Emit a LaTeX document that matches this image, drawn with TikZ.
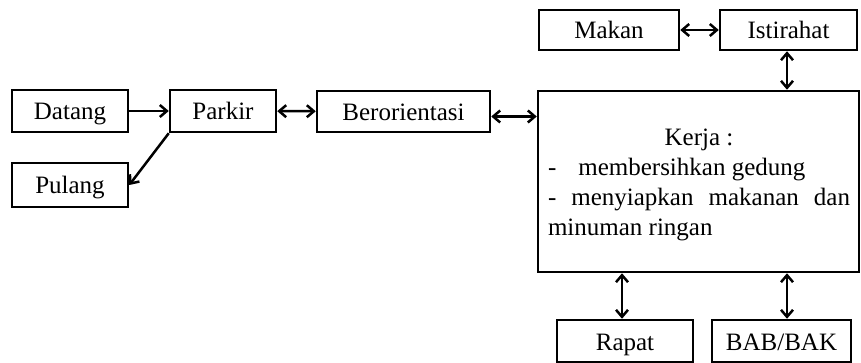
\documentclass[tikz,border=0pt]{standalone}
\usepackage{fontspec}
\setmainfont{Liberation Serif}
\usepackage{tikz}
\usetikzlibrary{arrows.meta}

\tikzset{
	box/.style={draw, line width=2.5pt, inner sep=0pt, minimum height=42pt, text height=18pt, text depth=0pt},
	link/.style={line width=2.5pt, >={Straight Barb[length=7pt,width=12pt]}}
}

\begin{document}
\begin{tikzpicture}[x=1pt, y=-1pt, font=\fontsize{25}{30}\selectfont]
\useasboundingbox (0,0) rectangle (861,363);
\node[box, minimum width=116pt] (datang) at (70, 111){Datang};
\node[box, minimum width=106pt] (parkir) at (223, 111){Parkir};
\node[box, minimum width=116pt, minimum height=44pt] (pulang) at (70, 185){Pulang};
\node[box, minimum width=173pt, minimum height=41pt] (beror) at (403.5, 111.5){Berorientasi};
\node[box, minimum width=140pt, minimum height=40pt] (makan) at (609, 30){Makan};
\node[box, minimum width=137pt, minimum height=40pt] (istirahat) at (788.5, 30){Istirahat};
\node[box, minimum width=321pt, minimum height=181pt] (kerja) at (698.5, 181.5){};
\node[text width=302pt, align=justify, inner sep=0pt] (kerjatext) at (699, 185){%
\noindent\hfill Kerja :\hfill\null\par
\noindent-\hspace{22pt}membersihkan gedung\par
\noindent-\ menyiapkan makanan dan minuman ringan\par};
\node[box, minimum width=136pt] (rapat) at (625, 341){Rapat};
\node[box, minimum width=139pt] (babbak) at (781.5, 341){BAB/BAK};

% connectors
\draw[link, ->] (datang) -- (parkir);
\draw[link, <->] (parkir) -- (beror);
\draw[link, <->] ([yshift=-5pt]beror.east) -- ([yshift=-5pt]beror.east -| kerja.west);
\draw[link, ->] (parkir.south west) -- (pulang.east);
\draw[link, <->] (makan) -- (istirahat);
\draw[link, <->] ([xshift=-1.5pt]istirahat.south) -- ([xshift=-1.5pt]istirahat.south |- kerja.north);
\draw[link, <->] ([xshift=-3pt]rapat.north |- kerja.south) -- ([xshift=-3pt]rapat.north);
\draw[link, <->] ([xshift=-1.5pt]istirahat.south |- kerja.south) -- ([xshift=-1.5pt]istirahat.south |- babbak.north);
\end{tikzpicture}
\end{document}
